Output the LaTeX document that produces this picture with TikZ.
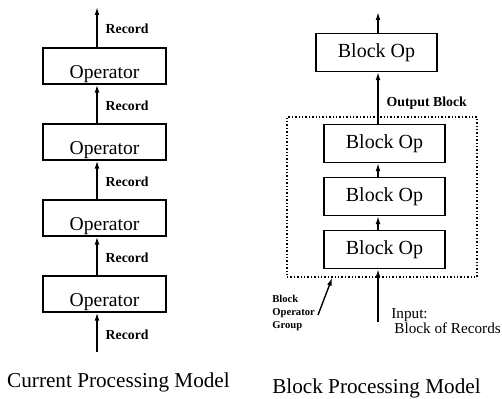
\documentclass[tikz,border=0pt]{standalone}
\usepackage{fontspec}
\setmainfont{Liberation Serif}
\usetikzlibrary{arrows.meta, positioning, calc}
\tikzstyle{opbox}=[draw,rectangle,line width=0.6pt,minimum width=61.5pt,inner ysep=0pt,text height=15.5pt,text depth=2.5pt,font=\fontsize{9.8}{10}\selectfont]
\tikzstyle{blockop}=[draw,rectangle,line width=0.6pt,minimum width=60.5pt,minimum height=19pt,inner sep=0pt,font=\fontsize{10}{11}\selectfont]
\tikzstyle{grp}=[draw,rectangle,densely dotted,line width=0.7pt,minimum width=95pt,minimum height=80pt,inner sep=0pt]
\tikzstyle{lbl}=[anchor=west,inner xsep=4pt,font=\bfseries\fontsize{6.9}{7}\selectfont]
\tikzstyle{caption}=[font=\fontsize{10.6}{12}\selectfont]
\tikzstyle{flow}=[-{Latex[length=4pt,width=2.4pt]},line width=0.7pt]

\begin{document}
\begin{tikzpicture}[x=0.5pt,y=-0.5pt,node distance=38pt]
    \useasboundingbox (0,0) rectangle (502,399);
    % current processing model
    \node[opbox] (op1) at (104.5,294) {Operator};
    \node[opbox, above of=op1] (op2) {Operator};
    \node[opbox, above of=op2] (op3) {Operator};
    \node[opbox, above of=op3] (op4) {Operator};
    \coordinate (lin) at (97,352);
    \coordinate (lout) at (97,7);
    \draw[flow] (lin) -- node[lbl, yshift=-1pt] {Record} (op1.south -| lin);
    \draw[flow] (op1.north -| lin) -- node[lbl, yshift=-1pt] {Record} (op2.south -| lin);
    \draw[flow] (op2.north -| lin) -- node[lbl, yshift=-1pt] {Record} (op3.south -| lin);
    \draw[flow] (op3.north -| lin) -- node[lbl, yshift=-1pt] {Record} (op4.south -| lin);
    \draw[flow] (op4.north -| lout) -- node[lbl, yshift=-1pt] {Record} (lout);
    \node[caption] (cap1) at (118.5,382) {Current Processing Model};
    % block processing model
    \node[grp] (grp) at (382,197) {};
    \node[blockop] (b1) at (384.5,249.5) {Block Op};
    \node[blockop, above of=b1, node distance=26.5pt] (b2) {Block Op};
    \node[blockop, above of=b2, node distance=26.5pt] (b3) {Block Op};
    \node[blockop] (b4) at (376.5,52.5) {Block Op};
    \coordinate (rin) at (378,322);
    \coordinate (rout) at (378,12);
    \draw[flow] (rin) -- (b1.south -| rin);
    \draw[flow] (b1.north -| rin) -- (b2.south -| rin);
    \draw[flow] (b2.north -| rin) -- (b3.south -| rin);
    \draw[flow] (b3.north -| rin) -- node[lbl, pos=0.4] {Output Block} (b4.south -| rin);
    \draw[flow] (b4.north -| rout) -- (rout);
    \node[anchor=west, align=left, inner sep=0pt, font=\fontsize{7.6}{7.2}\selectfont] (inlbl) at (391,321) {Input:\\\hspace*{1.5pt}Block of Records};
    \node[anchor=west, align=left, inner sep=0pt, font=\bfseries\fontsize{5.3}{6.5}\selectfont] (glbl) at (272,313) {Block\\Operator\\Group};
    \coordinate (gfrom) at (318,315);
    \draw[flow] (gfrom) -- ($(grp.south west)!0.24!(grp.south east)$);
    \node[caption] (cap2) at (376.5,388) {Block Processing Model};
\end{tikzpicture}
\end{document}
